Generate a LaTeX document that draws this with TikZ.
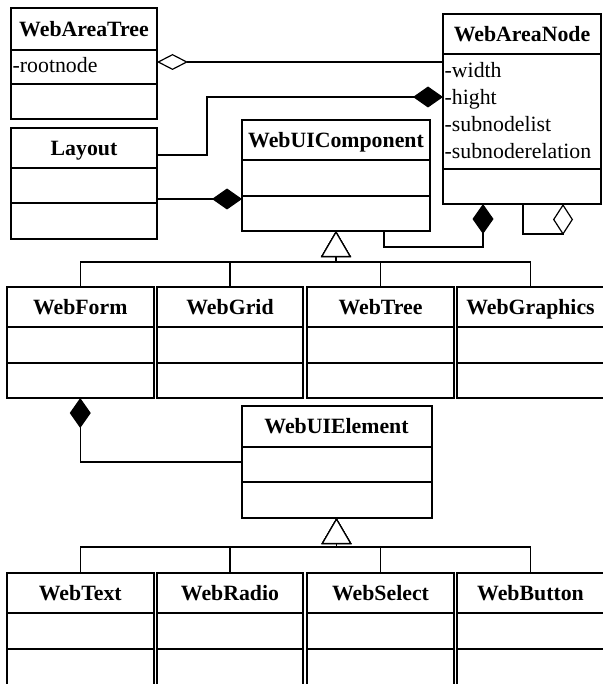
\documentclass[tikz,border=0pt]{standalone}
\usepackage{fontspec}
\setmainfont{Liberation Serif}
\usetikzlibrary{arrows.meta}

\tikzset{
  classbox/.style={draw, line width=2pt, rectangle, inner sep=0pt, outer sep=0pt},
  classrule/.style={line width=2pt},
  classtitle/.style={font=\fontsize{21.8}{26}\selectfont\bfseries, anchor=base, inner sep=0pt},
  attr/.style={font=\fontsize{21.8}{26}\selectfont, anchor=base west, inner sep=0pt},
  link/.style={line width=1.2pt},
  composition/.style={link, -{Diamond[length=30pt, width=21pt, fill=black]}},
  aggregation/.style={link, -{Diamond[open, length=31pt, width=16pt, fill=white]}},
  selfaggregation/.style={link, -{Diamond[open, length=31pt, width=20pt, fill=white]}},
  inherit/.style={link, -{Triangle[open, length=26pt, width=30pt, fill=white]}},
}

% #1 name, #2 left, #3 top, #4 right, #5 bottom, #6/#7 compartment rules, #8 title
\newcommand\umlclass[8]{%
  \pgfmathsetmacro\clsw{#4-#2}%
  \pgfmathsetmacro\clsh{#5-#3}%
  \node[classbox, minimum width=\clsw pt, minimum height=\clsh pt] (#1) at ({(#2+#4)/2},{(#3+#5)/2}) {};
  \draw[classrule] (#1.west |- 0,#6) -- (#1.east |- 0,#6);
  \draw[classrule] (#1.west |- 0,#7) -- (#1.east |- 0,#7);
  \node[classtitle] (#1-title) at ({(#2+#4)/2},{(#3+#6)/2+7.4}) {#8};
}

\begin{document}
\begin{tikzpicture}[x=1pt,y=-1pt]
\useasboundingbox (0,0) rectangle (602,684);
\fill[white] (0,0) rectangle (602,684);

% classes
\umlclass{WebAreaTree}{11}{8}{157}{119}{50}{84}{WebAreaTree}
\umlclass{Layout}{11}{128}{157}{239}{168}{203}{Layout}
\umlclass{WebUIComponent}{242}{120}{430}{231}{160}{196}{WebUIComponent}
\umlclass{WebAreaNode}{443}{14}{601}{204}{54}{169}{WebAreaNode}

\umlclass{WebForm}{7}{287}{153.5}{398}{327}{363}{WebForm}
\umlclass{WebGrid}{157}{287}{303}{398}{327}{363}{WebGrid}
\umlclass{WebTree}{307}{287}{454}{398}{327}{363}{WebTree}
\umlclass{WebGraphics}{457}{287}{604}{398}{327}{363}{WebGraphics}

\umlclass{WebUIElement}{241.5}{406}{431.5}{518}{447}{482}{WebUIElement}

\umlclass{WebText}{7}{573}{153.5}{692}{613}{649}{WebText}
\umlclass{WebRadio}{157}{573}{303}{692}{613}{649}{WebRadio}
\umlclass{WebSelect}{307}{573}{454}{692}{613}{649}{WebSelect}
\umlclass{WebButton}{457}{573}{604}{692}{613}{649}{WebButton}

% attributes
\node[attr] (rootnode) at (12.5,73) {-rootnode};
\node[attr] (width) at (444.5,78) {-width};
\node[attr] (hight) at (444.5,105) {-hight};
\node[attr] (subnodelist) at (444.5,132) {-subnodelist};
\node[attr] (subnoderelation) at (444.5,158.5) {-subnoderelation};

% associations
\draw[aggregation] (WebAreaNode.west |- 0,62) -- (WebAreaTree.east |- 0,62);
\draw[composition] (Layout.east |- 0,155) -- (207,155) |- (WebAreaNode.west |- 0,97);
\draw[composition] (Layout.east |- 0,199) -- (WebUIComponent.west |- 0,199);
\draw[composition] (WebUIComponent.south -| 384,0) -- (384,247) -| (WebAreaNode.south -| 483,0);
\draw[selfaggregation] (WebAreaNode.south -| 523,0) -- (523,234) -| (WebAreaNode.south -| 563,0);
\draw[composition] (WebUIElement.west |- 0,462) -| (WebForm.south);

% generalizations
\foreach \c in {WebForm, WebGrid, WebTree, WebGraphics}
  \draw[inherit] (\c.north) |- (WebUIComponent.south |- 0,262) -- (WebUIComponent.south);
\foreach \c in {WebText, WebRadio, WebSelect, WebButton}
  \draw[inherit] (\c.north) |- (WebUIElement.south |- 0,547) -- (WebUIElement.south);
\end{tikzpicture}
\end{document}
